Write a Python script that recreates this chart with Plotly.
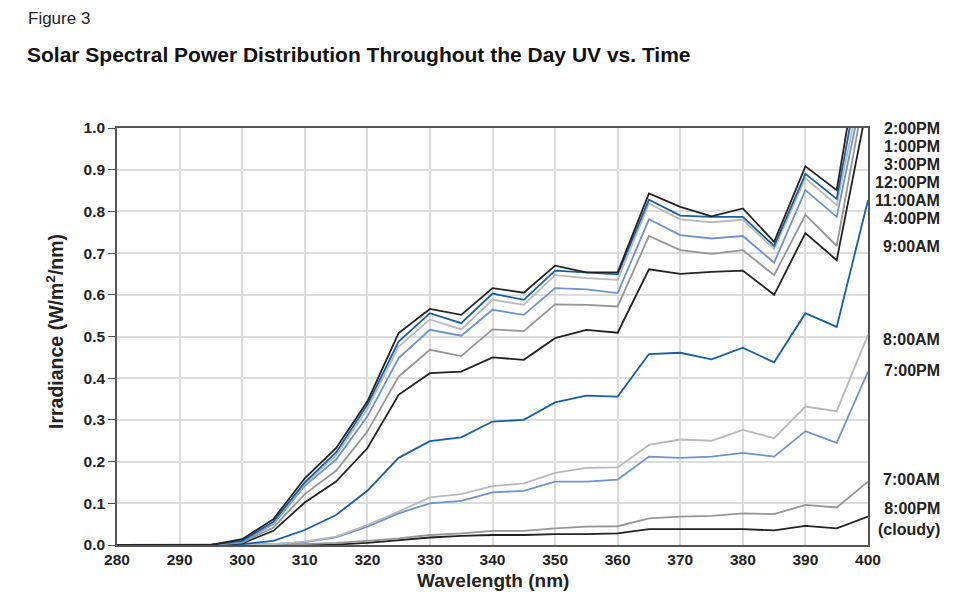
import plotly.graph_objects as go

wavelength = [280, 285, 290, 295, 300, 305, 310, 315, 320, 325, 330, 335, 340,
              345, 350, 355, 360, 365, 370, 375, 380, 385, 390, 395, 400]

pm2 = [0, 0, 0, 0, 0.014, 0.062, 0.16, 0.232, 0.344, 0.508, 0.566, 0.552, 0.616, 0.605, 0.67, 0.654, 0.654, 0.843, 0.811, 0.788, 0.807, 0.727, 0.908, 0.851, 1.30]
pm1 = [0, 0, 0, 0, 0.01, 0.056, 0.15, 0.222, 0.336, 0.488, 0.556, 0.532, 0.603, 0.588, 0.658, 0.653, 0.649, 0.828, 0.79, 0.787, 0.787, 0.717, 0.89, 0.83, 1.24]
pm3 = [0, 0, 0, 0, 0.01, 0.054, 0.146, 0.215, 0.326, 0.476, 0.541, 0.517, 0.588, 0.576, 0.647, 0.640, 0.636, 0.819, 0.781, 0.774, 0.78, 0.71, 0.88, 0.815, 1.18]
pm12 = [0, 0, 0, 0, 0.008, 0.05, 0.142, 0.205, 0.308, 0.448, 0.516, 0.502, 0.564, 0.552, 0.616, 0.613, 0.604, 0.781, 0.743, 0.735, 0.741, 0.677, 0.851, 0.787, 1.15]
am11 = [0, 0, 0, 0, 0.006, 0.042, 0.122, 0.178, 0.272, 0.404, 0.468, 0.453, 0.517, 0.513, 0.577, 0.576, 0.572, 0.741, 0.707, 0.698, 0.707, 0.647, 0.792, 0.717, 1.13]
pm4 = [0, 0, 0, 0, 0.004, 0.034, 0.102, 0.152, 0.232, 0.36, 0.412, 0.416, 0.45, 0.444, 0.496, 0.516, 0.509, 0.661, 0.65, 0.655, 0.658, 0.6, 0.748, 0.683, 1.065]
am9 = [0, 0, 0, 0, 0.002, 0.01, 0.036, 0.072, 0.13, 0.209, 0.249, 0.258, 0.296, 0.3, 0.342, 0.358, 0.356, 0.458, 0.461, 0.445, 0.473, 0.438, 0.556, 0.523, 0.827]
am8 = [0, 0, 0, 0, 0, 0.002, 0.008, 0.02, 0.048, 0.08, 0.114, 0.122, 0.141, 0.148, 0.173, 0.185, 0.186, 0.24, 0.253, 0.25, 0.276, 0.256, 0.332, 0.321, 0.504]
pm7 = [0, 0, 0, 0, 0, 0.002, 0.007, 0.018, 0.044, 0.076, 0.1, 0.106, 0.126, 0.13, 0.152, 0.152, 0.157, 0.212, 0.209, 0.212, 0.221, 0.212, 0.273, 0.245, 0.416]
am7 = [0, 0, 0, 0, 0, 0, 0.002, 0.005, 0.01, 0.016, 0.024, 0.028, 0.034, 0.034, 0.04, 0.044, 0.045, 0.064, 0.068, 0.07, 0.076, 0.074, 0.096, 0.09, 0.152]
pm8 = [0, 0, 0, 0, 0, 0, 0, 0.001, 0.005, 0.012, 0.018, 0.022, 0.024, 0.024, 0.026, 0.026, 0.028, 0.038, 0.038, 0.038, 0.038, 0.035, 0.046, 0.04, 0.068]

series_names = ["2:00PM", "1:00PM", "3:00PM", "12:00PM", "11:00AM", "4:00PM",
                "9:00AM", "8:00AM", "7:00PM", "7:00AM", "8:00PM<br>(cloudy)"]
series_values = [pm2, pm1, pm3, pm12, am11, pm4, am9, am8, pm7, am7, pm8]
label_y = [1.0, 0.955, 0.912, 0.869, 0.826, 0.783, 0.716, 0.492, 0.418, 0.156, 0.062]

x_ticks = list(range(280, 401, 10))
y_ticks = [round(i * 0.1, 1) for i in range(11)]

palette = ["#222222", "#165fa3", "#b9b9b9", "#6c93cc", "#969696"]
FONT = "Liberation Sans, Arial, Helvetica, sans-serif"

# plot area in page pixels (page body has an 8px margin)
PL, PR, PT, PB = 117, 868, 128, 545
PW, PH = PR - PL, PB - PT


def px(xp):
    return (xp - PL) / PW


def py(yp):
    return (PB - yp) / PH


fig = go.Figure()
n = len(series_names)
for i in reversed(range(n)):
    fig.add_trace(go.Scatter(
        x=wavelength, y=series_values[i], mode="lines",
        name=series_names[i].replace("<br>", " "),
        line=dict(color=palette[i % 5], width=1.8),
        showlegend=False, hoverinfo="x+y+name"))

for name, yy in zip(series_names, label_y):
    fig.add_annotation(x=px(942), xref="paper", y=yy, yref="y", text="<b>" + name + "</b>",
                       showarrow=False, xanchor="right", yanchor="middle", align="right",
                       font=dict(size=16, color="#222222", family=FONT))

fig.add_annotation(x=px(26), y=py(18), xref="paper", yref="paper", text="Figure 3",
                   showarrow=False, xanchor="left", yanchor="middle",
                   font=dict(size=17, color="#222222", family=FONT))
fig.add_annotation(x=px(25), y=py(55), xref="paper", yref="paper",
                   text="<b>Solar Spectral Power Distribution Throughout the Day UV vs. Time</b>",
                   showarrow=False, xanchor="left", yanchor="middle",
                   font=dict(size=21, color="#111111", family=FONT))
fig.add_annotation(x=px(492.5), y=py(593), xref="paper", yref="paper",
                   text="<b>Wavelength (nm)</b>", showarrow=False, xanchor="center", yanchor="bottom",
                   font=dict(size=19, color="#222222", family=FONT))
fig.add_annotation(x=px(55), y=py(332), xref="paper", yref="paper", textangle=-90,
                   text="<b>Irradiance (W/m<sup>2</sup>/nm)</b>", showarrow=False,
                   xanchor="center", yanchor="middle",
                   font=dict(size=19.5, color="#222222", family=FONT))

axis_font = dict(size=15.5, color="#222222", family=FONT)
fig.update_xaxes(range=[280, 400], tickvals=x_ticks, ticktext=["<b>%d</b>" % v for v in x_ticks],
                 showgrid=True, gridcolor="#dcdcdc", gridwidth=1.5,
                 showline=True, linecolor="#555555", linewidth=1.5, mirror=True,
                 ticks="", tickfont=axis_font, zeroline=False)
fig.update_yaxes(range=[0, 1], tickvals=y_ticks, ticktext=["<b>%.1f</b>" % v for v in y_ticks],
                 showgrid=True, gridcolor="#dcdcdc", gridwidth=1.5,
                 showline=True, linecolor="#555555", linewidth=1.5, mirror=True,
                 ticks="outside", ticklen=7, tickcolor="#555555", tickfont=axis_font,
                 zeroline=False)

fig.update_layout(width=964, height=586,
                  margin=dict(l=PL - 8, r=964 + 8 - PR, t=PT - 8, b=586 + 8 - PB),
                  paper_bgcolor="white", plot_bgcolor="white",
                  font=dict(family=FONT, color="#222222"))

fig.write_html("out.html")
